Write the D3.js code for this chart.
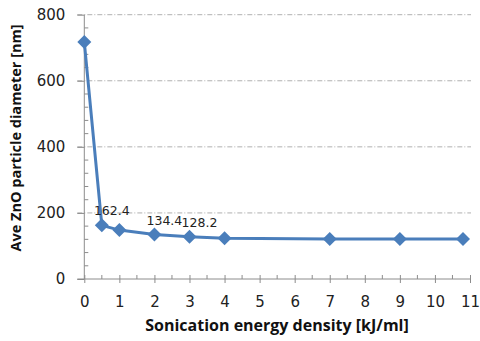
<!DOCTYPE html>
<html><head><meta charset="utf-8">
<script src="https://cdn.jsdelivr.net/npm/d3@7"></script>
<style>body{margin:0;background:#fff}svg{display:block}</style>
</head><body>
<script>
const energy = [0, 0.5, 1, 2, 3, 4, 7, 9, 10.8];
const diameter = [717, 162.4, 148, 134.4, 128.2, 123, 121, 121, 121];
const labeled = [162.4, 134.4, 128.2];
const xTicks = [0,1,2,3,4,5,6,7,8,9,10,11];
const yTicks = [0,200,400,600,800];
const xTitle = "Sonication energy density [kJ/ml]";
const yTitle = "Ave ZnO particle diameter [nm]";

const W = 480, H = 341;
const m = {l:84.3, r:10, t:14.7, b:62};
const svg = d3.select("body").append("svg").attr("width",W).attr("height",H);
const x = d3.scaleLinear().domain([0,11]).range([m.l, 470]);
const y = d3.scaleLinear().domain([0,800]).range([279, m.t]);
const axisColor = "#8c8c8c";

// gridlines
svg.append("g").selectAll("line").data(yTicks.filter(d=>d>0)).join("line")
  .attr("x1", m.l-7).attr("x2", x(11)+1)
  .attr("y1", d=>y(d)).attr("y2", d=>y(d))
  .attr("stroke", "#b0b0b0").attr("stroke-width", 1)
  .attr("stroke-dasharray", "5,2,1,2");

// y axis
const ya = svg.append("g").attr("transform",`translate(${m.l},0)`)
  .call(d3.axisLeft(y).tickValues(yTicks).tickSize(7).tickPadding(12));
ya.select(".domain").attr("stroke", axisColor).attr("d", `M0,${y(800)}V${y(0)}`);
ya.selectAll(".tick line").attr("stroke", axisColor);
ya.selectAll(".tick text").attr("font-family","DejaVu Sans").attr("font-size",15).attr("fill","#222");
// y minor ticks
svg.append("g").selectAll("line").data(d3.range(0,801,40).filter(d=>d%200!==0)).join("line")
  .attr("x1", m.l).attr("x2", m.l+4).attr("y1", d=>y(d)).attr("y2", d=>y(d))
  .attr("stroke", axisColor);

// x axis
const xa = svg.append("g").attr("transform",`translate(0,${y(0)})`)
  .call(d3.axisBottom(x).tickValues(xTicks).tickSize(4).tickPadding(13));
xa.select(".domain").attr("stroke", axisColor).attr("d", `M${x(0)-7},0H${x(11)}`);
xa.selectAll(".tick line").attr("stroke", axisColor).attr("y1",-4);
xa.selectAll(".tick text").attr("font-family","DejaVu Sans").attr("font-size",15).attr("fill","#222");
svg.append("g").selectAll("line").data(d3.range(0.5,11,1)).join("line")
  .attr("x1", d=>x(d)).attr("x2", d=>x(d)).attr("y1", y(0)-4).attr("y2", y(0))
  .attr("stroke", axisColor);

// line
const pts = energy.map((e,i)=>[e, diameter[i]]);
svg.append("path").datum(pts)
  .attr("d", d3.line().x(d=>x(d[0])).y(d=>y(d[1])).curve(d3.curveLinear))
  .attr("fill","none").attr("stroke","#4a7ebb").attr("stroke-width",3).attr("stroke-linejoin","round");
svg.append("g").selectAll("path").data(pts).join("path")
  .attr("transform", d=>`translate(${x(d[0])},${y(d[1])})`)
  .attr("d", "M0,-7L7,0L0,7L-7,0Z").attr("fill","#4a7ebb");

// data labels
svg.append("g").selectAll("text").data(pts.filter(d=>labeled.includes(d[1]))).join("text")
  .attr("x", d=>x(d[0])+10).attr("y", d=>y(d[1])-10)
  .attr("text-anchor","middle").attr("font-family","DejaVu Sans").attr("font-size",12.5).attr("fill","#222")
  .text(d=>d[1].toFixed(1));

// titles
svg.append("text").attr("x", 277).attr("y", 331).attr("text-anchor","middle")
  .attr("font-family","Open Sans").attr("font-weight","bold").attr("font-size",16).attr("fill","#111")
  .text(xTitle);
svg.append("text").attr("transform","translate(21,138) rotate(-90)").attr("text-anchor","middle")
  .attr("font-family","Open Sans").attr("font-weight","bold").attr("font-size",14.5).attr("fill","#111")
  .text(yTitle);
</script>
</body></html>
